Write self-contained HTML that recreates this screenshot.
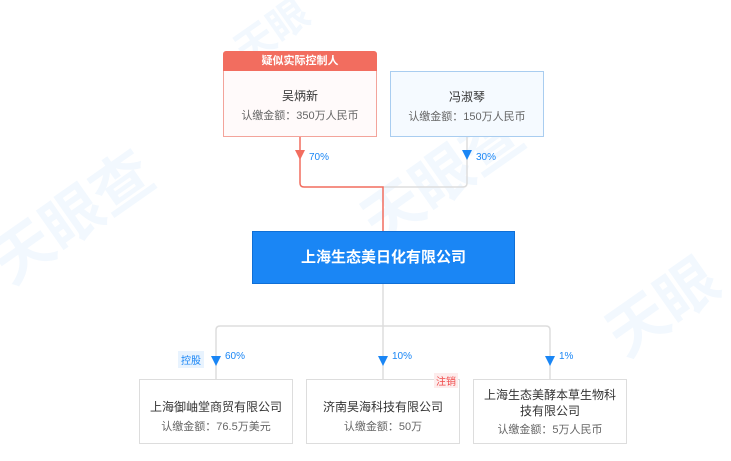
<!DOCTYPE html>
<html><head><meta charset="utf-8"><style>
body{margin:0;width:731px;height:461px;background:#fff;position:relative;overflow:hidden;font-family:"Liberation Sans","Noto Sans CJK SC",sans-serif;}
.a{position:absolute;box-sizing:border-box;}
.box{text-align:center;}
.t{font-size:12px;color:#333;}
.s{font-size:11px;color:#666;}
.wm{position:absolute;color:rgba(30,130,240,0.06);font-size:60px;font-weight:bold;transform:rotate(-35deg);}
.p{position:absolute;font-size:10px;color:#1a86f5;}
</style></head><body>
<div class="wm" style="left:-20px;top:170px">天眼查</div>
<div class="wm" style="left:350px;top:130px">天眼查</div>
<div class="wm" style="left:600px;top:260px">天眼</div>
<div class="wm" style="left:230px;top:0px;font-size:40px">天眼</div>
<svg class="a" style="left:0;top:0" width="731" height="461">
<path d="M467 137 V183 Q467 187 463 187 H383" stroke="#ddd" stroke-width="1.5" fill="none"/>
<path d="M300 137 V183 Q300 187 304 187 H383 V231" stroke="#f26d5f" stroke-width="1.5" fill="none"/>
<path d="M383 284 V326 M220 326 H546 Q550 326 550 330 V379 M216 330 Q216 326 220 326 M216 330 V379 M383 326 V379" stroke="#ddd" stroke-width="1.5" fill="none"/>
<polygon points="295,150 305,150 300,160" fill="#f26d5f"/>
<polygon points="462,150 472,150 467,160" fill="#1a86f5"/>
<polygon points="211,356 221,356 216,366" fill="#1a86f5"/>
<polygon points="378,356 388,356 383,366" fill="#1a86f5"/>
<polygon points="545,356 555,356 550,366" fill="#1a86f5"/>
<polygon points="296,71 304,71 300,76" fill="#f26d5f"/>
</svg>
<div class="a" style="left:223px;top:51px;width:154px;height:20px;background:#f26d5f;color:#fff;font-size:11px;font-weight:bold;text-align:center;line-height:20px;border-radius:3px 3px 0 0">疑似实际控制人</div>
<div class="a box" style="left:223px;top:71px;width:154px;height:66px;border:1px solid #f3a49b;border-top:none;background:#fffafa;padding-top:16px"><div class="t">吴炳新</div><div class="s" style="margin-top:3px">认缴金额：350万人民币</div></div>
<div class="a box" style="left:390px;top:71px;width:154px;height:66px;border:1px solid #a9cdf0;background:#f5faff;padding-top:16px"><div class="t">冯淑琴</div><div class="s" style="margin-top:3px">认缴金额：150万人民币</div></div>
<div class="p" style="left:309px;top:152px">70%</div>
<div class="p" style="left:476px;top:152px">30%</div>
<div class="a" style="left:252px;top:231px;width:263px;height:53px;background:#1a86f5;border:1px solid #0f6fd6;color:#fff;font-weight:bold;font-size:15px;text-align:center;line-height:51px">上海生态美日化有限公司</div>
<div class="a" style="left:178px;top:351px;background:#e8f3fe;color:#1a86f5;font-size:10px;padding:1px 3px">控股</div>
<div class="p" style="left:225px;top:351px">60%</div>
<div class="p" style="left:392px;top:351px">10%</div>
<div class="p" style="left:559px;top:351px">1%</div>
<div class="a box" style="left:139px;top:379px;width:154px;height:65px;border:1px solid #ddd;padding-top:18px"><div class="t">上海御岫堂商贸有限公司</div><div class="s" style="margin-top:3px">认缴金额：76.5万美元</div></div>
<div class="a box" style="left:306px;top:379px;width:154px;height:65px;border:1px solid #ddd;padding-top:18px"><div class="t">济南昊海科技有限公司</div><div class="s" style="margin-top:3px">认缴金额：50万</div></div>
<div class="a" style="left:434px;top:373px;background:#fdecec;color:#f04a4a;font-size:10px;padding:0 2px">注销</div>
<div class="a box" style="left:473px;top:379px;width:154px;height:65px;border:1px solid #ddd;padding-top:7px"><div class="t" style="line-height:16px">上海生态美酵本草生物科<br>技有限公司</div><div class="s" style="margin-top:2px">认缴金额：5万人民币</div></div>
</body></html>
